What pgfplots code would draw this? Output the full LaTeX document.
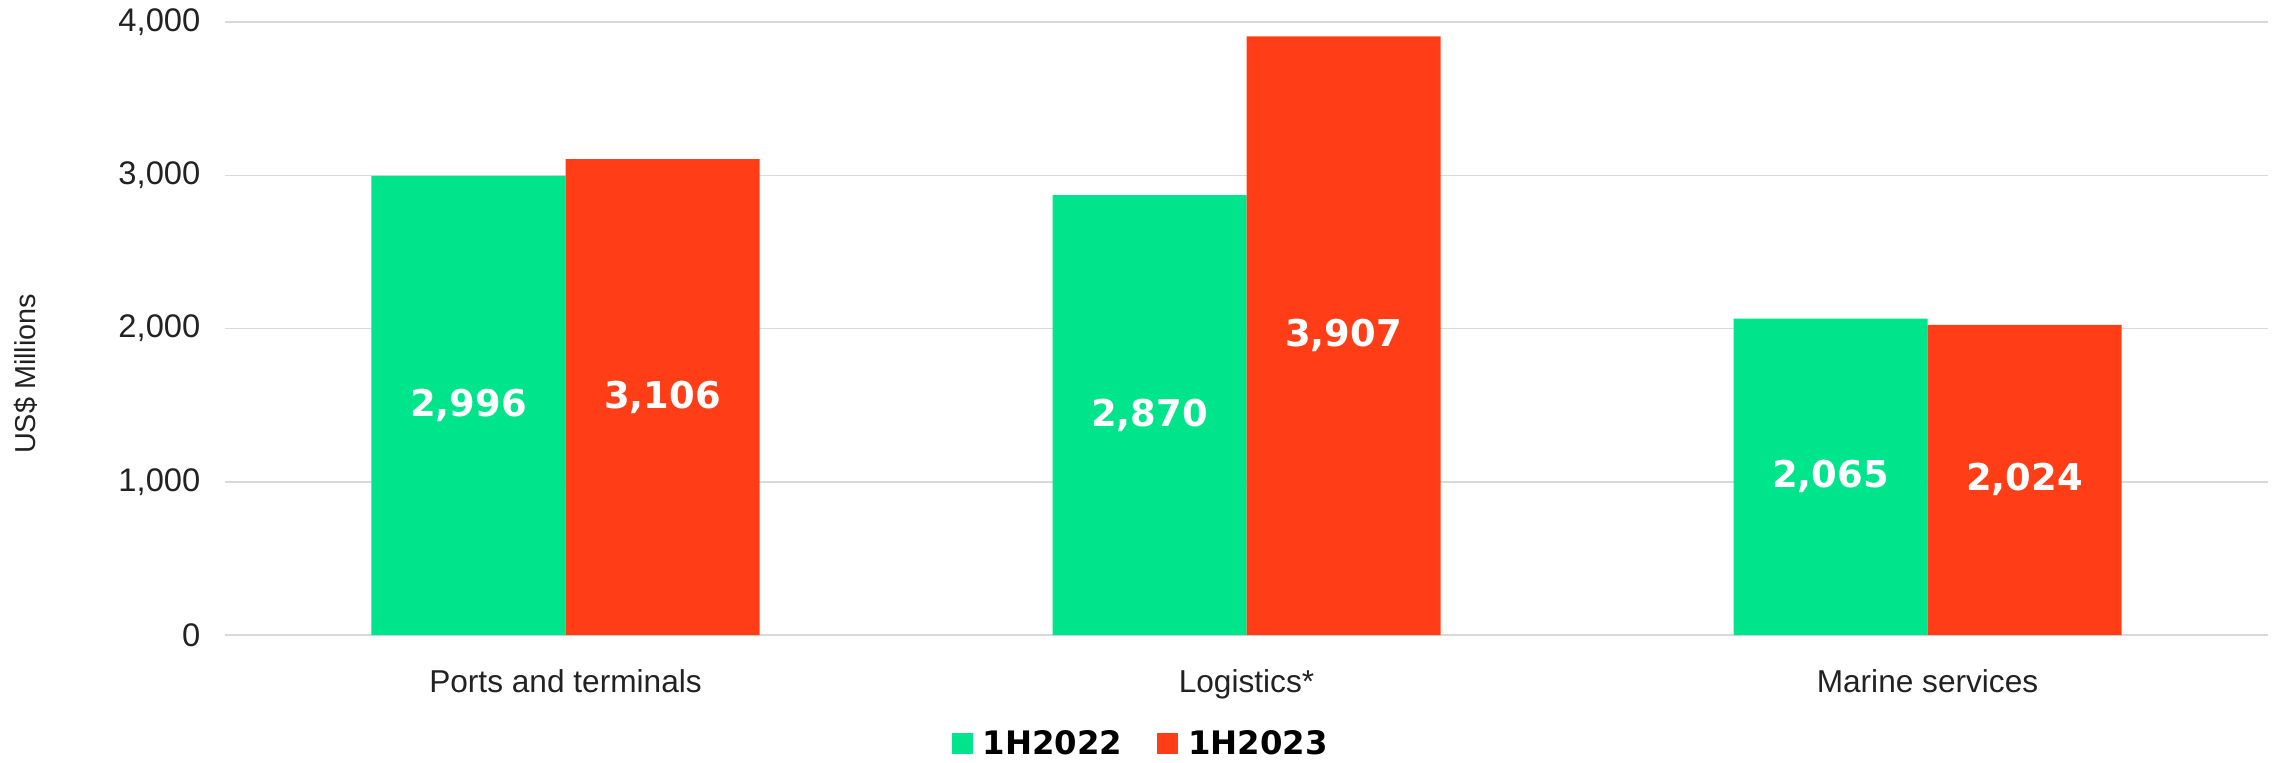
\documentclass[border=0pt]{standalone}
\usepackage{fontspec}
\setmainfont{Liberation Sans}
\newfontfamily\valfont{DejaVu Sans}
\newfontfamily\legfont{DejaVu Sans}
\usepackage{pgfplots}
\pgfplotsset{compat=1.18}

\definecolor{cgreen}{RGB}{0,229,140}
\definecolor{cred}{RGB}{255,61,22}
\definecolor{cgrid}{RGB}{217,217,217}
\definecolor{ctext}{RGB}{34,34,34}

\begin{document}
\begin{tikzpicture}
\begin{axis}[
  scale only axis,
  width=204.3mm, height=61.3mm,
  ybar=0pt, bar width=19.4mm,
  xmin=-0.5, xmax=2.5, ymin=0, ymax=4000,
  xtick=data,
  xticklabels={Ports and terminals, Logistics*, Marine services},
  ytick={0,1000,2000,3000,4000},
  scaled y ticks=false,
  /pgf/number format/1000 sep={,},
  /pgf/number format/assume math mode=true,
  axis line style={draw=none},
  major tick length=0pt,
  ymajorgrids,
  major grid style={cgrid, line width=0.15mm},
  yticklabel style={inner sep=0pt, xshift=-2.4mm,
    font=\fontsize{9.3}{10}\selectfont, text=ctext},
  xticklabel style={inner sep=0pt, anchor=base, yshift=-5.7mm,
    font=\fontsize{9}{10}\selectfont, text=ctext},
  ylabel={US\$ Millions},
  ylabel style={at={(rel axis cs:-0.0974,0.426)}, anchor=center,
    font=\fontsize{8.2}{10}\selectfont, text=ctext},
  visualization depends on={y \as \rawy},
  nodes near coords,
  every node near coord/.append style={
    font=\valfont\bfseries\fontsize{10.5}{12}\selectfont, text=white,
    anchor=center, shift={(axis direction cs:0,-\rawy/2)}},
  legend columns=-1,
  legend style={at={(rel axis cs:0.3554,-0.1790)}, anchor=west,
    draw=none, fill=none, inner sep=0pt, column sep=1mm,
    nodes={inner sep=0pt},
    font=\legfont\bfseries\fontsize{9.2}{11}\selectfont},
  legend image code/.code={\fill[#1] (0mm,-0.9mm) rectangle (2.1mm,1.2mm);},
]
\addplot[fill=cgreen, draw=none] coordinates {(0,2996) (1,2870) (2,2065)};
\addplot[fill=cred, draw=none] coordinates {(0,3106) (1,3907) (2,2024)};
\addlegendentry{1H2022\hspace*{2.5mm}}
\addlegendentry{1H2023}
\coordinate (o) at (rel axis cs:0,0);
\end{axis}
\pgfresetboundingbox
\path[use as bounding box] (o) ++(-22.5mm,-12.7mm) rectangle ++(227.2mm,76.2mm);
\end{tikzpicture}
\end{document}
